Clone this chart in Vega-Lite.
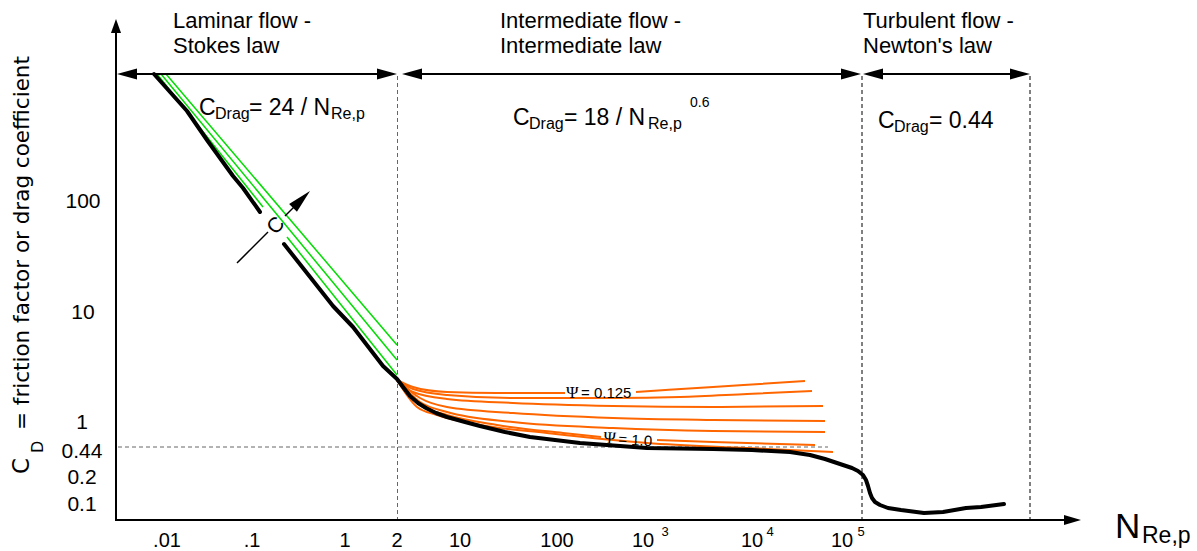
{
  "$schema": "https://vega.github.io/schema/vega-lite/v6.json",
  "width": 1197,
  "height": 551,
  "autosize": {"type": "none"},
  "padding": 0,
  "background": "white",
  "config": {"view": {"stroke": null}},
  "datasets": {
    "solid_rules": [
      {"x": 116, "y": 521, "x2": 116, "y2": 30},
      {"x": 115, "y": 520, "x2": 1068, "y2": 520},
      {"x": 125, "y": 74, "x2": 390, "y2": 74},
      {"x": 410, "y": 74, "x2": 852, "y2": 74},
      {"x": 871, "y": 74, "x2": 1020, "y2": 74}
    ],
    "thin_rules": [
      {"x": 237, "y": 263, "x2": 268, "y2": 232},
      {"x": 285, "y": 216, "x2": 298, "y2": 203}
    ],
    "gray_dashed": [
      {"x": 397.5, "y": 76, "x2": 397.5, "y2": 520},
      {"x": 118, "y": 447, "x2": 828, "y2": 447}
    ],
    "black_dashed": [
      {"x": 862, "y": 76, "x2": 862, "y2": 520},
      {"x": 1030, "y": 76, "x2": 1030, "y2": 520}
    ],
    "arrows_left": [{"x": 117, "y": 74}, {"x": 402, "y": 74}, {"x": 863, "y": 74}],
    "arrows_right": [{"x": 397, "y": 74}, {"x": 861, "y": 74}, {"x": 1030, "y": 74}],
    "arrow_x": [{"x": 1081, "y": 520}],
    "arrow_y": [{"x": 116, "y": 19}],
    "arrow_diag": [{"x": 310, "y": 191}],
    "drag_curve": [
      {"seg": "a", "x": 154, "y": 74}, {"seg": "a", "x": 187, "y": 111}, {"seg": "a", "x": 207, "y": 140},
      {"seg": "a", "x": 233, "y": 176}, {"seg": "a", "x": 243, "y": 188}, {"seg": "a", "x": 260, "y": 212},
      {"seg": "b", "x": 284, "y": 244}, {"seg": "b", "x": 333, "y": 306}, {"seg": "b", "x": 353, "y": 327},
      {"seg": "b", "x": 383, "y": 366}, {"seg": "b", "x": 397, "y": 379}, {"seg": "b", "x": 403, "y": 387},
      {"seg": "b", "x": 410, "y": 396}, {"seg": "b", "x": 418, "y": 403}, {"seg": "b", "x": 426, "y": 408},
      {"seg": "b", "x": 436, "y": 413}, {"seg": "b", "x": 447, "y": 417}, {"seg": "b", "x": 465, "y": 422},
      {"seg": "b", "x": 480, "y": 426}, {"seg": "b", "x": 505, "y": 432}, {"seg": "b", "x": 530, "y": 437},
      {"seg": "b", "x": 580, "y": 443}, {"seg": "b", "x": 647, "y": 448}, {"seg": "b", "x": 713, "y": 449},
      {"seg": "b", "x": 752, "y": 450}, {"seg": "b", "x": 790, "y": 452}, {"seg": "b", "x": 810, "y": 455},
      {"seg": "b", "x": 825, "y": 459}, {"seg": "b", "x": 840, "y": 464}, {"seg": "b", "x": 852, "y": 468},
      {"seg": "b", "x": 858, "y": 471}, {"seg": "b", "x": 863, "y": 475}, {"seg": "b", "x": 866, "y": 480},
      {"seg": "b", "x": 868, "y": 486}, {"seg": "b", "x": 870, "y": 493}, {"seg": "b", "x": 872, "y": 498},
      {"seg": "b", "x": 875, "y": 502}, {"seg": "b", "x": 880, "y": 505}, {"seg": "b", "x": 888, "y": 508},
      {"seg": "b", "x": 901, "y": 510}, {"seg": "b", "x": 924, "y": 513}, {"seg": "b", "x": 943, "y": 512},
      {"seg": "b", "x": 966, "y": 508}, {"seg": "b", "x": 981, "y": 507}, {"seg": "b", "x": 1004, "y": 504}
    ],
    "stokes_lines": [
      {"seg": "g1a", "x": 157, "y": 74}, {"seg": "g1a", "x": 263, "y": 207},
      {"seg": "g1b", "x": 287, "y": 237}, {"seg": "g1b", "x": 397, "y": 375},
      {"seg": "g2", "x": 161, "y": 74}, {"seg": "g2", "x": 397, "y": 360},
      {"seg": "g3", "x": 166, "y": 74}, {"seg": "g3", "x": 397, "y": 345}
    ],
    "psi_lines": [
      {"seg": "o1a", "x": 397, "y": 380}, {"seg": "o1a", "x": 413, "y": 387}, {"seg": "o1a", "x": 447, "y": 392}, {"seg": "o1a", "x": 497, "y": 393}, {"seg": "o1a", "x": 565, "y": 393},
      {"seg": "o1b", "x": 636, "y": 392}, {"seg": "o1b", "x": 713, "y": 387}, {"seg": "o1b", "x": 805, "y": 381},
      {"seg": "o2", "x": 397, "y": 380}, {"seg": "o2", "x": 413, "y": 389}, {"seg": "o2", "x": 447, "y": 395}, {"seg": "o2", "x": 513, "y": 398}, {"seg": "o2", "x": 613, "y": 398}, {"seg": "o2", "x": 680, "y": 397}, {"seg": "o2", "x": 747, "y": 394}, {"seg": "o2", "x": 812, "y": 391},
      {"seg": "o3", "x": 397, "y": 380}, {"seg": "o3", "x": 413, "y": 392}, {"seg": "o3", "x": 447, "y": 399}, {"seg": "o3", "x": 513, "y": 403}, {"seg": "o3", "x": 613, "y": 406}, {"seg": "o3", "x": 713, "y": 407}, {"seg": "o3", "x": 823, "y": 406},
      {"seg": "o4", "x": 397, "y": 380}, {"seg": "o4", "x": 420, "y": 398}, {"seg": "o4", "x": 447, "y": 407}, {"seg": "o4", "x": 513, "y": 413}, {"seg": "o4", "x": 613, "y": 418}, {"seg": "o4", "x": 713, "y": 420}, {"seg": "o4", "x": 825, "y": 421},
      {"seg": "o5", "x": 397, "y": 380}, {"seg": "o5", "x": 420, "y": 402}, {"seg": "o5", "x": 447, "y": 412}, {"seg": "o5", "x": 513, "y": 422}, {"seg": "o5", "x": 613, "y": 428}, {"seg": "o5", "x": 713, "y": 431}, {"seg": "o5", "x": 825, "y": 432},
      {"seg": "o6a", "x": 397, "y": 380}, {"seg": "o6a", "x": 420, "y": 405}, {"seg": "o6a", "x": 447, "y": 415}, {"seg": "o6a", "x": 497, "y": 425}, {"seg": "o6a", "x": 563, "y": 433}, {"seg": "o6a", "x": 601, "y": 437},
      {"seg": "o6b", "x": 657, "y": 440}, {"seg": "o6b", "x": 713, "y": 442}, {"seg": "o6b", "x": 815, "y": 445},
      {"seg": "o7", "x": 397, "y": 380}, {"seg": "o7", "x": 417, "y": 407}, {"seg": "o7", "x": 437, "y": 415}, {"seg": "o7", "x": 480, "y": 425}, {"seg": "o7", "x": 547, "y": 433}, {"seg": "o7", "x": 647, "y": 443}, {"seg": "o7", "x": 747, "y": 448}, {"seg": "o7", "x": 833, "y": 452}
    ],
    "region_titles": [
      {"x": 173, "y": 28, "label": "Laminar flow -"},
      {"x": 173, "y": 53, "label": "Stokes law"},
      {"x": 500, "y": 28, "label": "Intermediate flow -"},
      {"x": 500, "y": 53, "label": "Intermediate law"},
      {"x": 863, "y": 28, "label": "Turbulent flow -"},
      {"x": 863, "y": 53, "label": "Newton's law"}
    ],
    "formula_main": [
      {"x": 199, "y": 115, "label": "C"},
      {"x": 249, "y": 115, "label": "= 24 / N"},
      {"x": 513, "y": 125, "label": "C"},
      {"x": 564, "y": 125, "label": "= 18 / N"},
      {"x": 878, "y": 128, "label": "C"},
      {"x": 929, "y": 128, "label": "= 0.44"}
    ],
    "formula_sub": [
      {"x": 215, "y": 119, "label": "Drag"},
      {"x": 331, "y": 119, "label": "Re,p"},
      {"x": 529, "y": 129, "label": "Drag"},
      {"x": 648, "y": 129, "label": "Re,p"},
      {"x": 894, "y": 132, "label": "Drag"}
    ],
    "formula_sup": [{"x": 690, "y": 107, "label": "0.6"}],
    "y_ticks": [
      {"x": 83, "y": 202, "label": "100"},
      {"x": 83, "y": 313, "label": "10"},
      {"x": 82, "y": 423, "label": "1"},
      {"x": 82, "y": 452, "label": "0.44"},
      {"x": 82, "y": 478, "label": "0.2"},
      {"x": 82, "y": 505, "label": "0.1"}
    ],
    "x_ticks": [
      {"x": 167, "y": 541, "label": ".01"},
      {"x": 252, "y": 541, "label": ".1"},
      {"x": 345, "y": 541, "label": "1"},
      {"x": 397, "y": 541, "label": "2"},
      {"x": 460, "y": 541, "label": "10"},
      {"x": 557, "y": 541, "label": "100"},
      {"x": 643, "y": 541, "label": "10"},
      {"x": 752, "y": 541, "label": "10"},
      {"x": 842, "y": 541, "label": "10"}
    ],
    "x_sup": [
      {"x": 665, "y": 532, "label": "3"},
      {"x": 770, "y": 532, "label": "4"},
      {"x": 861, "y": 532, "label": "5"}
    ],
    "x_title_main": [{"x": 1115, "y": 538, "label": "N"}],
    "x_title_sub": [{"x": 1142, "y": 543, "label": "Re,p"}],
    "y_title_c": [{"x": 29, "y": 474, "label": "C"}],
    "y_title_d": [{"x": 43, "y": 453, "label": "D"}],
    "y_title_rest": [{"x": 29, "y": 430, "label": "= friction factor or drag coefficient"}],
    "psi_sym": [{"x": 566, "y": 398, "label": "Ψ"}],
    "psi_val": [{"x": 581, "y": 398, "label": "= 0.125"}],
    "psi_sym_tilt": [{"x": 603, "y": 443, "label": "Ψ"}],
    "psi_val_tilt": [{"x": 618, "y": 444, "label": "= 1.0"}],
    "c_marker": [{"x": 276, "y": 226, "label": "C"}]
  },
  "encoding": {
    "x": {"field": "x", "type": "quantitative", "scale": {"domain": [0, 1197], "nice": false, "zero": false}, "axis": null},
    "y": {"field": "y", "type": "quantitative", "scale": {"domain": [0, 551], "reverse": true, "nice": false, "zero": false}, "axis": null}
  },
  "layer": [
    {"data": {"name": "gray_dashed"}, "mark": {"type": "rule", "color": "#666666", "strokeWidth": 1, "strokeDash": [4, 3]},
     "encoding": {"x2": {"field": "x2"}, "y2": {"field": "y2"}}},
    {"data": {"name": "black_dashed"}, "mark": {"type": "rule", "color": "#000000", "strokeWidth": 1, "strokeDash": [4, 3]},
     "encoding": {"x2": {"field": "x2"}, "y2": {"field": "y2"}}},
    {"data": {"name": "stokes_lines"}, "mark": {"type": "line", "color": "#00dd00", "strokeWidth": 1.5},
     "encoding": {"detail": {"field": "seg"}}},
    {"data": {"name": "psi_lines"}, "mark": {"type": "line", "color": "#ff6600", "strokeWidth": 2, "interpolate": "monotone"},
     "encoding": {"detail": {"field": "seg"}}},
    {"data": {"name": "drag_curve"}, "mark": {"type": "line", "color": "#000000", "strokeWidth": 4, "strokeJoin": "round", "strokeCap": "round"},
     "encoding": {"detail": {"field": "seg"}}},
    {"data": {"name": "solid_rules"}, "mark": {"type": "rule", "color": "#000000", "strokeWidth": 2},
     "encoding": {"x2": {"field": "x2"}, "y2": {"field": "y2"}}},
    {"data": {"name": "thin_rules"}, "mark": {"type": "rule", "color": "#000000", "strokeWidth": 1.5},
     "encoding": {"x2": {"field": "x2"}, "y2": {"field": "y2"}}},
    {"data": {"name": "arrows_left"}, "mark": {"type": "point", "shape": "M0,0L-0.55,2L0.55,2Z", "filled": true, "color": "#000000", "opacity": 1, "size": 400, "angle": 270, "strokeWidth": 0}},
    {"data": {"name": "arrows_right"}, "mark": {"type": "point", "shape": "M0,0L-0.55,2L0.55,2Z", "filled": true, "color": "#000000", "opacity": 1, "size": 400, "angle": 90, "strokeWidth": 0}},
    {"data": {"name": "arrow_x"}, "mark": {"type": "point", "shape": "M0,0L-0.6,2L0.6,2Z", "filled": true, "color": "#000000", "opacity": 1, "size": 289, "angle": 90, "strokeWidth": 0}},
    {"data": {"name": "arrow_y"}, "mark": {"type": "point", "shape": "M0,0L-0.72,2L0.72,2Z", "filled": true, "color": "#000000", "opacity": 1, "size": 196, "angle": 0, "strokeWidth": 0}},
    {"data": {"name": "arrow_diag"}, "mark": {"type": "point", "shape": "M0,0L-0.46,2L0.46,2Z", "filled": true, "color": "#000000", "opacity": 1, "size": 576, "angle": 45, "strokeWidth": 0}},
    {"data": {"name": "region_titles"}, "mark": {"type": "text", "font": "Liberation Sans", "fontSize": 22, "align": "left", "baseline": "alphabetic", "color": "#000000"},
     "encoding": {"text": {"field": "label"}}},
    {"data": {"name": "formula_main"}, "mark": {"type": "text", "font": "Liberation Sans", "fontSize": 23, "align": "left", "baseline": "alphabetic", "color": "#000000"},
     "encoding": {"text": {"field": "label"}}},
    {"data": {"name": "formula_sub"}, "mark": {"type": "text", "font": "Liberation Sans", "fontSize": 16, "align": "left", "baseline": "alphabetic", "color": "#000000"},
     "encoding": {"text": {"field": "label"}}},
    {"data": {"name": "formula_sup"}, "mark": {"type": "text", "font": "Liberation Sans", "fontSize": 14, "align": "left", "baseline": "alphabetic", "color": "#000000"},
     "encoding": {"text": {"field": "label"}}},
    {"data": {"name": "y_ticks"}, "mark": {"type": "text", "font": "Liberation Sans", "fontSize": 21, "align": "center", "baseline": "middle", "color": "#000000"},
     "encoding": {"text": {"field": "label"}}},
    {"data": {"name": "x_ticks"}, "mark": {"type": "text", "font": "Liberation Sans", "fontSize": 20, "align": "center", "baseline": "middle", "color": "#000000"},
     "encoding": {"text": {"field": "label"}}},
    {"data": {"name": "x_sup"}, "mark": {"type": "text", "font": "Liberation Sans", "fontSize": 13, "align": "center", "baseline": "middle", "color": "#000000"},
     "encoding": {"text": {"field": "label"}}},
    {"data": {"name": "x_title_main"}, "mark": {"type": "text", "font": "Liberation Sans", "fontSize": 35, "align": "left", "baseline": "alphabetic", "color": "#000000"},
     "encoding": {"text": {"field": "label"}}},
    {"data": {"name": "x_title_sub"}, "mark": {"type": "text", "font": "Liberation Sans", "fontSize": 23, "align": "left", "baseline": "alphabetic", "color": "#000000"},
     "encoding": {"text": {"field": "label"}}},
    {"data": {"name": "y_title_c"}, "mark": {"type": "text", "font": "DejaVu Sans", "fontSize": 23, "align": "left", "baseline": "alphabetic", "angle": 270, "color": "#000000"},
     "encoding": {"text": {"field": "label"}}},
    {"data": {"name": "y_title_d"}, "mark": {"type": "text", "font": "DejaVu Sans", "fontSize": 16, "align": "left", "baseline": "alphabetic", "angle": 270, "color": "#000000"},
     "encoding": {"text": {"field": "label"}}},
    {"data": {"name": "y_title_rest"}, "mark": {"type": "text", "font": "DejaVu Sans", "fontSize": 21.5, "align": "left", "baseline": "alphabetic", "angle": 270, "color": "#000000"},
     "encoding": {"text": {"field": "label"}}},
    {"data": {"name": "psi_sym"}, "mark": {"type": "text", "font": "Liberation Serif", "fontSize": 17, "align": "left", "baseline": "alphabetic", "color": "#000000"},
     "encoding": {"text": {"field": "label"}}},
    {"data": {"name": "psi_val"}, "mark": {"type": "text", "font": "Liberation Sans", "fontSize": 15, "align": "left", "baseline": "alphabetic", "color": "#000000"},
     "encoding": {"text": {"field": "label"}}},
    {"data": {"name": "psi_sym_tilt"}, "mark": {"type": "text", "font": "Liberation Serif", "fontSize": 17, "align": "left", "baseline": "alphabetic", "angle": 4, "color": "#000000"},
     "encoding": {"text": {"field": "label"}}},
    {"data": {"name": "psi_val_tilt"}, "mark": {"type": "text", "font": "Liberation Sans", "fontSize": 15, "align": "left", "baseline": "alphabetic", "angle": 4, "color": "#000000"},
     "encoding": {"text": {"field": "label"}}},
    {"data": {"name": "c_marker"}, "mark": {"type": "text", "font": "Liberation Sans", "fontSize": 21, "align": "center", "baseline": "middle", "angle": 315, "color": "#000000"},
     "encoding": {"text": {"field": "label"}}}
  ]
}
